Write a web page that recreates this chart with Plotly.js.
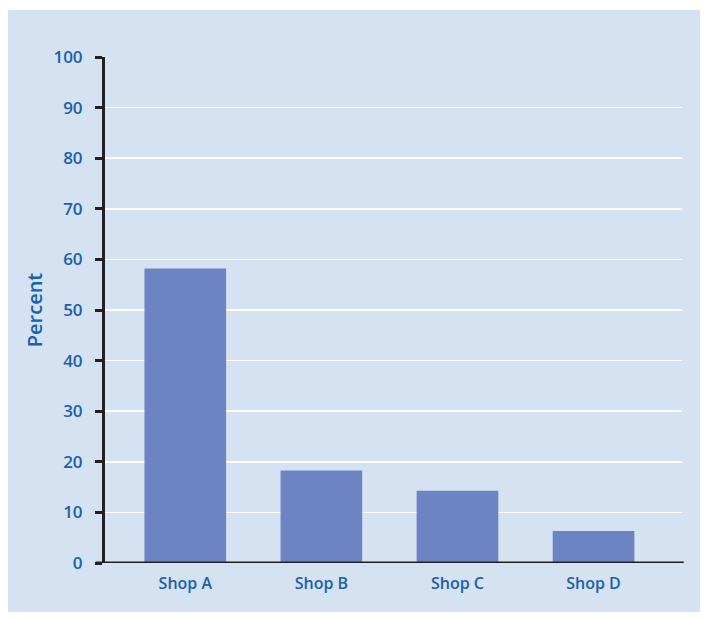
<!DOCTYPE html>
<html>
<head>
<meta charset="utf-8">
<script src="https://cdn.plot.ly/plotly-3.0.1.min.js"></script>
<style>
html,body{margin:0;padding:0;background:#ffffff;}
#chart{position:absolute;left:8px;top:10px;width:692px;height:602px;}
</style>
</head>
<body>
<div id="chart"></div>
<script>
const categories = ["Shop A", "Shop B", "Shop C", "Shop D"];
const percentValues = [58.2, 18.3, 14.3, 6.3];
const yTickValues = [0, 10, 20, 30, 40, 50, 60, 70, 80, 90, 100];

const textColor = "#1a60ab";
const fontFamily = "'Open Sans', 'Noto Sans', sans-serif";

const trace = {
  type: "bar",
  x: categories,
  y: percentValues,
  marker: {color: "#6d84c2", line: {width: 0}},
  hoverinfo: "skip"
};

const layout = {
  width: 692,
  height: 602,
  margin: {l: 97, r: 18, t: 47, b: 49},
  paper_bgcolor: "#d4e2f2",
  plot_bgcolor: "#d4e2f2",
  bargap: 0.4,
  showlegend: false,
  font: {family: fontFamily, color: textColor, size: 16, weight: 600},
  xaxis: {
    type: "category",
    range: [-0.59, 3.65],
    showgrid: false,
    showline: false,
    zeroline: false,
    ticks: "",
    ticklabelstandoff: 9,
    tickfont: {family: fontFamily, color: textColor, size: 16, weight: 600},
    fixedrange: true
  },
  yaxis: {
    range: [0, 100],
    tickvals: yTickValues,
    ticktext: yTickValues.map(String),
    showgrid: true,
    gridcolor: "#ffffff",
    gridwidth: 1.5,
    zeroline: false,
    showline: true,
    linecolor: "#231f20",
    linewidth: 3,
    ticks: "outside",
    ticklen: 7,
    tickwidth: 3,
    tickcolor: "#231f20",
    ticklabelstandoff: 9,
    tickfont: {family: fontFamily, color: textColor, size: 17, weight: 600},
    title: {text: "Percent", standoff: 6, font: {family: fontFamily, color: textColor, size: 20, weight: 600}},
    fixedrange: true
  },
  shapes: [{
    type: "line",
    xref: "paper", yref: "y",
    x0: -0.016, x1: 1.003, y0: 0, y1: 0,
    line: {color: "#231f20", width: 3}
  }]
};

Plotly.newPlot("chart", [trace], layout, {displayModeBar: false, staticPlot: true});
</script>
</body>
</html>
